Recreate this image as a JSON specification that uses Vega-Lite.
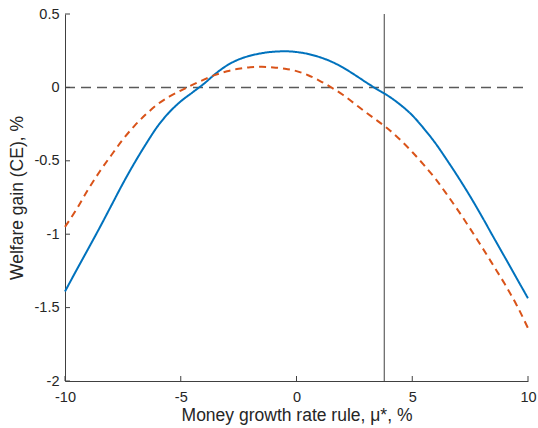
{
  "$schema": "https://vega.github.io/schema/vega-lite/v6.json",
  "width": 463,
  "height": 367,
  "autosize": {"type": "none"},
  "padding": {"left": 65, "top": 14, "right": 10, "bottom": 47},
  "background": "white",
  "config": {
    "view": {"stroke": null},
    "font": "Liberation Sans",
    "axis": {
      "domainColor": "#404040",
      "labelColor": "#262626",
      "titleColor": "#262626",
      "labelFont": "Liberation Sans",
      "titleFont": "Liberation Sans",
      "labelFontSize": 14.5,
      "titleFontSize": 17.5,
      "titleFontWeight": "normal",
      "grid": false,
      "ticks": false,
      "labelFlush": false,
      "domainWidth": 1
    }
  },
  "datasets": {
    "curves": [
      {"x": -10, "y": -1.39, "s": "A"},
      {"x": -9.5, "y": -1.244, "s": "A"},
      {"x": -9, "y": -1.10, "s": "A"},
      {"x": -8.5, "y": -0.955, "s": "A"},
      {"x": -8, "y": -0.805, "s": "A"},
      {"x": -7.5, "y": -0.655, "s": "A"},
      {"x": -7, "y": -0.515, "s": "A"},
      {"x": -6.5, "y": -0.385, "s": "A"},
      {"x": -6, "y": -0.265, "s": "A"},
      {"x": -5.5, "y": -0.17, "s": "A"},
      {"x": -5, "y": -0.095, "s": "A"},
      {"x": -4.5, "y": -0.035, "s": "A"},
      {"x": -4, "y": 0.025, "s": "A"},
      {"x": -3.5, "y": 0.093, "s": "A"},
      {"x": -3, "y": 0.15, "s": "A"},
      {"x": -2.5, "y": 0.19, "s": "A"},
      {"x": -2, "y": 0.216, "s": "A"},
      {"x": -1.5, "y": 0.233, "s": "A"},
      {"x": -1, "y": 0.243, "s": "A"},
      {"x": -0.5, "y": 0.246, "s": "A"},
      {"x": 0, "y": 0.241, "s": "A"},
      {"x": 0.5, "y": 0.228, "s": "A"},
      {"x": 1, "y": 0.206, "s": "A"},
      {"x": 1.5, "y": 0.176, "s": "A"},
      {"x": 2, "y": 0.136, "s": "A"},
      {"x": 2.5, "y": 0.087, "s": "A"},
      {"x": 3, "y": 0.035, "s": "A"},
      {"x": 3.5, "y": -0.015, "s": "A"},
      {"x": 4, "y": -0.062, "s": "A"},
      {"x": 4.5, "y": -0.12, "s": "A"},
      {"x": 5, "y": -0.19, "s": "A"},
      {"x": 5.5, "y": -0.28, "s": "A"},
      {"x": 6, "y": -0.38, "s": "A"},
      {"x": 6.5, "y": -0.495, "s": "A"},
      {"x": 7, "y": -0.615, "s": "A"},
      {"x": 7.5, "y": -0.742, "s": "A"},
      {"x": 8, "y": -0.877, "s": "A"},
      {"x": 8.5, "y": -1.018, "s": "A"},
      {"x": 9, "y": -1.157, "s": "A"},
      {"x": 9.5, "y": -1.297, "s": "A"},
      {"x": 10, "y": -1.437, "s": "A"},
      {"x": -10, "y": -0.95, "s": "B"},
      {"x": -9.5, "y": -0.83, "s": "B"},
      {"x": -9, "y": -0.695, "s": "B"},
      {"x": -8.5, "y": -0.573, "s": "B"},
      {"x": -8, "y": -0.462, "s": "B"},
      {"x": -7.5, "y": -0.355, "s": "B"},
      {"x": -7, "y": -0.262, "s": "B"},
      {"x": -6.5, "y": -0.183, "s": "B"},
      {"x": -6, "y": -0.115, "s": "B"},
      {"x": -5.5, "y": -0.063, "s": "B"},
      {"x": -5, "y": -0.022, "s": "B"},
      {"x": -4.5, "y": 0.017, "s": "B"},
      {"x": -4, "y": 0.053, "s": "B"},
      {"x": -3.5, "y": 0.085, "s": "B"},
      {"x": -3, "y": 0.11, "s": "B"},
      {"x": -2.5, "y": 0.127, "s": "B"},
      {"x": -2, "y": 0.137, "s": "B"},
      {"x": -1.5, "y": 0.14, "s": "B"},
      {"x": -1, "y": 0.136, "s": "B"},
      {"x": -0.5, "y": 0.127, "s": "B"},
      {"x": 0, "y": 0.111, "s": "B"},
      {"x": 0.5, "y": 0.083, "s": "B"},
      {"x": 1, "y": 0.045, "s": "B"},
      {"x": 1.5, "y": 0.0, "s": "B"},
      {"x": 2, "y": -0.05, "s": "B"},
      {"x": 2.5, "y": -0.11, "s": "B"},
      {"x": 3, "y": -0.17, "s": "B"},
      {"x": 3.5, "y": -0.228, "s": "B"},
      {"x": 4, "y": -0.288, "s": "B"},
      {"x": 4.5, "y": -0.36, "s": "B"},
      {"x": 5, "y": -0.44, "s": "B"},
      {"x": 5.5, "y": -0.528, "s": "B"},
      {"x": 6, "y": -0.622, "s": "B"},
      {"x": 6.5, "y": -0.73, "s": "B"},
      {"x": 7, "y": -0.843, "s": "B"},
      {"x": 7.5, "y": -0.962, "s": "B"},
      {"x": 8, "y": -1.085, "s": "B"},
      {"x": 8.5, "y": -1.212, "s": "B"},
      {"x": 9, "y": -1.34, "s": "B"},
      {"x": 9.5, "y": -1.48, "s": "B"},
      {"x": 10, "y": -1.64, "s": "B"}
    ],
    "hline": [{"y": 0, "x1": -10, "x2": 10}],
    "vline": [{"x": 3.79, "y1": -2, "y2": 0.5}],
    "yticks": [{"v": 0.5}, {"v": 0}, {"v": -0.5}, {"v": -1}, {"v": -1.5}, {"v": -2}],
    "xticks": [{"v": -10}, {"v": -5}, {"v": 0}, {"v": 5}, {"v": 10}]
  },
  "layer": [
    {
      "data": {"name": "hline"},
      "mark": {"type": "rule", "color": "#5a5a5a", "strokeWidth": 1.5, "strokeDash": [10, 6]},
      "encoding": {
        "y": {"field": "y", "type": "quantitative", "scale": {"domain": [-2, 0.5], "nice": false},
          "axis": {"values": [0.5, 0, -0.5, -1, -1.5, -2], "labelExpr": "datum.value + ''", "title": "Welfare gain (CE), %", "titlePadding": 8, "labelPadding": 6}},
        "x": {"field": "x1", "type": "quantitative", "scale": {"domain": [-10, 10], "nice": false},
          "axis": {"values": [-10, -5, 0, 5, 10], "labelExpr": "datum.value + ''", "title": "Money growth rate rule, μ*, %", "titlePadding": 3, "labelPadding": 9}},
        "x2": {"field": "x2"}
      }
    },
    {
      "data": {"name": "yticks"},
      "mark": {"type": "rule", "color": "#404040", "strokeWidth": 1, "x2Offset": 5},
      "encoding": {
        "y": {"field": "v", "type": "quantitative"},
        "x": {"datum": -10},
        "x2": {"datum": -10}
      }
    },
    {
      "data": {"name": "xticks"},
      "mark": {"type": "rule", "color": "#404040", "strokeWidth": 1, "y2Offset": -5},
      "encoding": {
        "x": {"field": "v", "type": "quantitative"},
        "y": {"datum": -2},
        "y2": {"datum": -2}
      }
    },
    {
      "data": {"name": "vline"},
      "mark": {"type": "rule", "color": "#404040", "strokeWidth": 1},
      "encoding": {
        "x": {"field": "x", "type": "quantitative"},
        "y": {"field": "y1", "type": "quantitative"},
        "y2": {"field": "y2"}
      }
    },
    {
      "data": {"name": "curves"},
      "mark": {"type": "line", "strokeWidth": 2, "interpolate": "monotone"},
      "encoding": {
        "x": {"field": "x", "type": "quantitative"},
        "y": {"field": "y", "type": "quantitative"},
        "detail": {"field": "s"},
        "color": {"field": "s", "type": "nominal", "scale": {"domain": ["A", "B"], "range": ["#0072BD", "#D95319"]}, "legend": null},
        "strokeDash": {"field": "s", "type": "nominal", "scale": {"domain": ["A", "B"], "range": [[1, 0], [7, 5]]}, "legend": null}
      }
    }
  ]
}
